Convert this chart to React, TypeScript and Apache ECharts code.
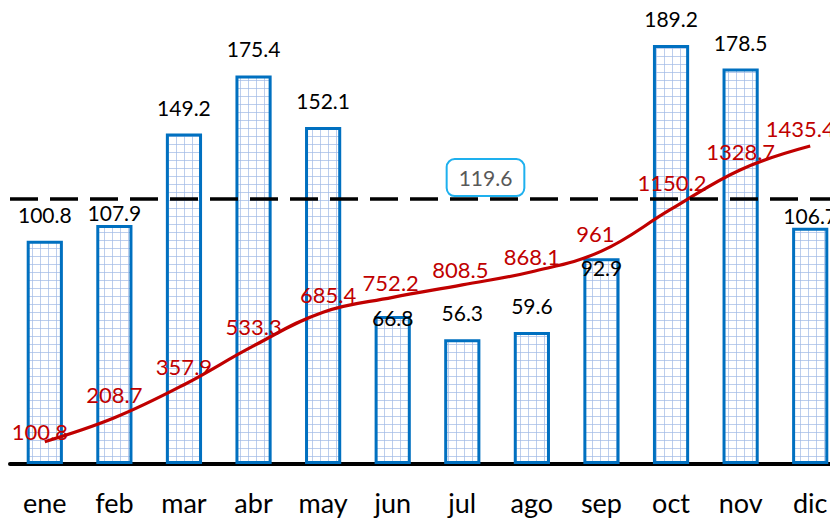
import React, { useEffect, useRef } from "react";
import * as echarts from "echarts";

const categories = ["ene", "feb", "mar", "abr", "may", "jun", "jul", "ago", "sep", "oct", "nov", "dic"];
const monthlyValues = [100.8, 107.9, 149.2, 175.4, 152.1, 66.8, 56.3, 59.6, 92.9, 189.2, 178.5, 106.7];
const cumulativeValues = [100.8, 208.7, 357.9, 533.3, 685.4, 752.2, 808.5, 868.1, 961, 1150.2, 1328.7, 1435.4];
const averageValue = 119.6;

// label nudges (style only)
const barLabelOffsets: Record<number, [number, number]> = { 1: [0, 14], 5: [0, 28], 8: [0, 36], 11: [0, 14] };
const lineLabelOffsets: Record<number, [number, number]> = {
  0: [-5, 8],
  1: [0, -5],
  3: [0, -1],
  4: [5, 0],
  5: [-2, 3],
  6: [-2, 3],
  7: [0, 3],
  8: [-6, 0],
  9: [1, -9],
  11: [-10, 0],
};

const FONT = "Lato, 'Open Sans', sans-serif";

function makePattern(): HTMLCanvasElement {
  const c = document.createElement("canvas");
  c.width = 8;
  c.height = 8;
  const ctx = c.getContext("2d")!;
  ctx.fillStyle = "#ffffff";
  ctx.fillRect(0, 0, 8, 8);
  ctx.fillStyle = "rgba(160,185,230,0.7)";
  ctx.fillRect(0, 0, 8, 1);
  ctx.fillRect(0, 0, 1, 8);
  return c;
}

export default function App() {
  const ref = useRef<HTMLDivElement>(null);
  useEffect(() => {
    if (!ref.current) return;
    const chart = echarts.init(ref.current, null, { renderer: "svg" });
    const pattern = makePattern();
    const barData = monthlyValues.map((v, i) =>
      barLabelOffsets[i] ? { value: v, label: { offset: barLabelOffsets[i] } } : v
    );
    const lineData = cumulativeValues.map((v, i) =>
      lineLabelOffsets[i] ? { value: v, label: { offset: lineLabelOffsets[i] } } : v
    );
    chart.setOption({
      animation: false,
      backgroundColor: "#ffffff",
      grid: { left: 10, width: 835, top: 21, bottom: 56, containLabel: false, outerBoundsMode: "none" },
      xAxis: {
        type: "category",
        data: categories,
        axisLine: { show: true, lineStyle: { color: "#000000", width: 4 } },
        axisTick: { show: false },
        axisLabel: { color: "#000000", fontSize: 27, fontFamily: FONT, margin: 25 },
      },
      yAxis: [
        { type: "value", min: 0, max: 200, show: false, splitLine: { show: false } },
        { type: "value", min: 0, max: 2000, show: false, splitLine: { show: false } },
      ],
      series: [
        {
          type: "bar",
          yAxisIndex: 0,
          data: barData,
          barWidth: "52%",
          itemStyle: {
            color: { image: pattern, repeat: "repeat", imageWidth: 8, imageHeight: 8 } as any,
            borderColor: "#0070C0",
            borderWidth: 3,
          },
          label: {
            show: true,
            position: "top",
            distance: 16,
            color: "#000000",
            fontSize: 21,
            fontFamily: FONT,
          },
          markLine: {
            silent: true,
            symbol: ["none", "none"],
            lineStyle: { color: "#000000", width: 3.5, type: [28, 12] },
            data: [{ yAxis: averageValue }],
            label: {
              show: true,
              position: "middle",
              formatter: (p: any) => String(p.value),
              color: "#595959",
              fontSize: 21,
              fontFamily: FONT,
              backgroundColor: "#ffffff",
              borderColor: "#1EB0EE",
              borderWidth: 2,
              borderRadius: 7,
              padding: [7, 11, 7, 11],
              offset: [58, -1],
              distance: 3,
            },
          },
          z: 2,
        },
        {
          type: "line",
          yAxisIndex: 1,
          data: lineData,
          smooth: 0.4,
          symbol: "circle",
          symbolSize: 0,
          showSymbol: true,
          lineStyle: { color: "#C00000", width: 3.2 },
          itemStyle: { color: "#C00000" },
          label: {
            show: true,
            position: "top",
            distance: 7,
            color: "#C00000",
            fontSize: 22,
            fontFamily: FONT,
          },
          z: 3,
        },
      ],
    });
    return () => chart.dispose();
  }, []);
  return (
    <div
      ref={ref}
      style={{ position: "absolute", left: 0, top: 0, width: 830, height: 520, background: "#fff" }}
    />
  );
}
